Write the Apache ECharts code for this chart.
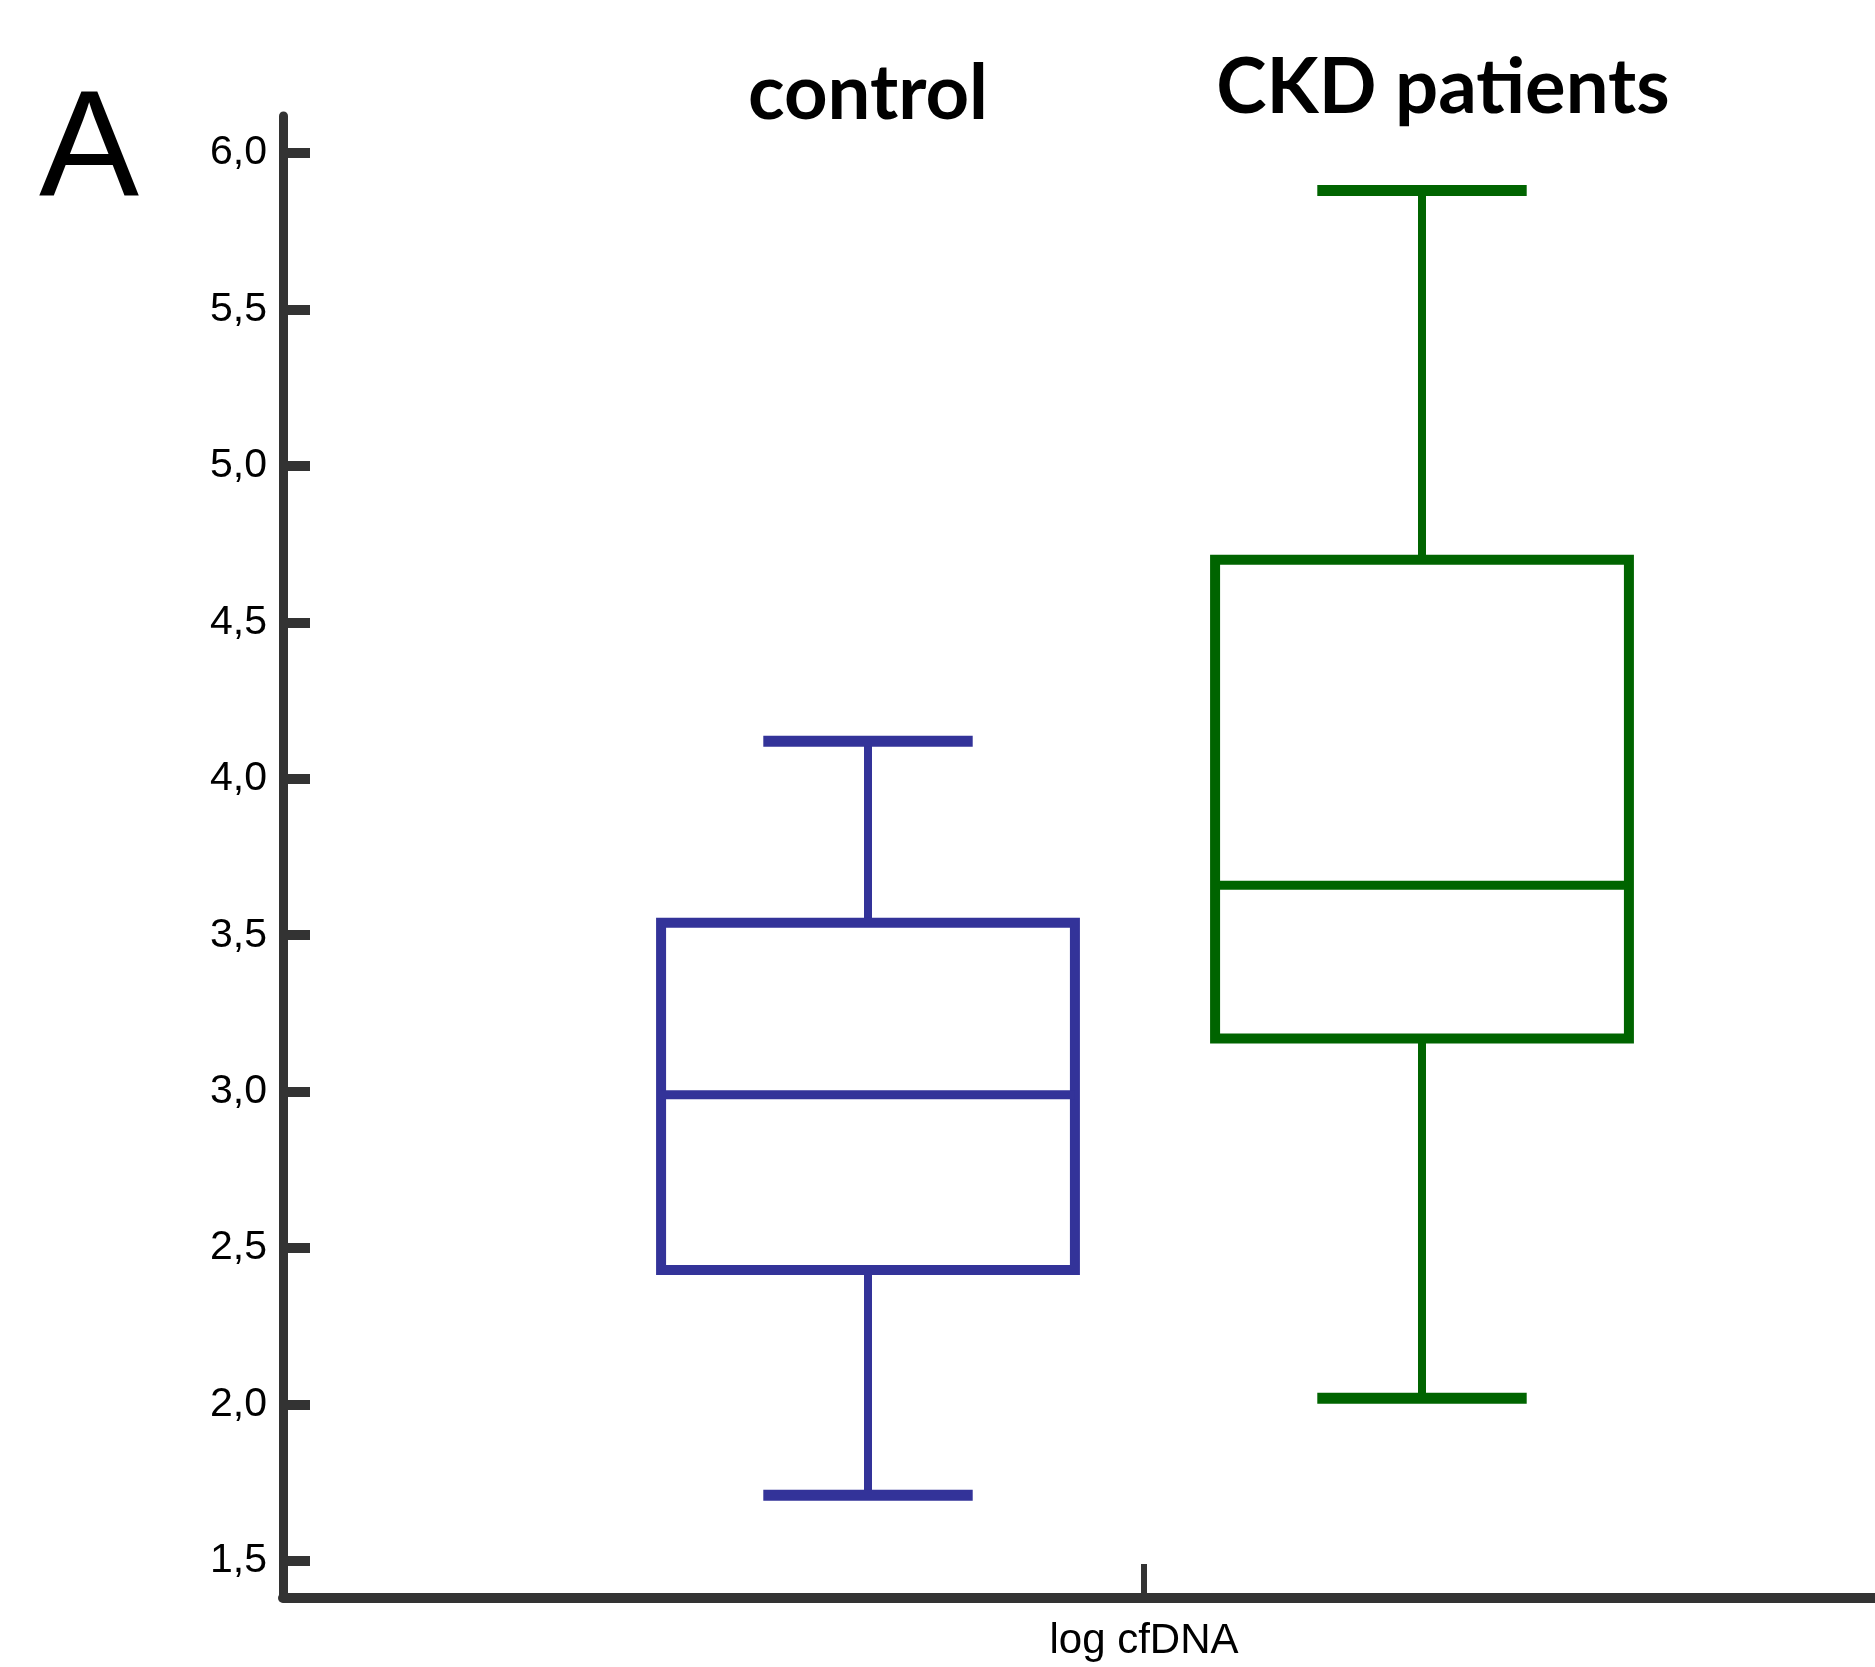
<!DOCTYPE html>
<html>
<head>
<meta charset="utf-8">
<script src="https://cdn.jsdelivr.net/npm/echarts@6/dist/echarts.min.js"></script>
<style>
  html, body { margin: 0; padding: 0; background: #fff; }
  #chart { width: 1875px; height: 1667px; }
</style>
</head>
<body>
<div id="chart"></div>
<script>
// box plot values (log cfDNA)
var groups = ['control', 'CKD patients'];
var whiskerLow = [1.71, 2.02];
var q1 = [2.43, 3.17];
var median = [2.99, 3.66];
var q3 = [3.54, 4.70];
var whiskerHigh = [4.12, 5.88];
var groupColors = ['#333399', '#006400'];

var xCategory = ['log cfDNA'];
var yTicks = [1.5, 2.0, 2.5, 3.0, 3.5, 4.0, 4.5, 5.0, 5.5, 6.0];
var yMin = 1.382, yMax = 6.118;

var boxData = [];
for (var i = 0; i < groups.length; i++) {
    boxData.push([i, whiskerLow[i], q1[i], median[i], q3[i], whiskerHigh[i]]);
}

function renderBox(params, api) {
    var cat = api.value(0);
    var x = api.coord([cat, 0])[0];
    var yLo = api.coord([cat, api.value(1)])[1];
    var yQ1 = api.coord([cat, api.value(2)])[1];
    var yMed = api.coord([cat, api.value(3)])[1];
    var yQ3 = api.coord([cat, api.value(4)])[1];
    var yHi = api.coord([cat, api.value(5)])[1];
    var band = api.size([1, 0])[0];
    var half = band * 0.747 / 2;
    var capHalf = band * 0.378 / 2;
    var color = groupColors[params.dataIndex];
    var thin = {stroke: color, lineWidth: 8};
    return {
        type: 'group',
        children: [
            {type: 'line', shape: {x1: x, y1: yQ3, x2: x, y2: yHi}, style: thin},
            {type: 'line', shape: {x1: x, y1: yQ1, x2: x, y2: yLo}, style: thin},
            {type: 'line', shape: {x1: x - capHalf, y1: yHi, x2: x + capHalf, y2: yHi}, style: {stroke: color, lineWidth: 11}},
            {type: 'line', shape: {x1: x - capHalf, y1: yLo, x2: x + capHalf, y2: yLo}, style: {stroke: color, lineWidth: 11}},
            {type: 'rect', shape: {x: x - half, y: yQ3, width: half * 2, height: yQ1 - yQ3},
                style: {fill: 'none', stroke: color, lineWidth: 10}},
            {type: 'line', shape: {x1: x - half, y1: yMed, x2: x + half, y2: yMed}, style: {stroke: color, lineWidth: 9}}
        ]
    };
}

var option = {
    backgroundColor: '#fff',
    animation: false,
    title: {
        text: 'A', left: 34, top: 74,
        textStyle: {fontFamily: 'Liberation Sans', fontSize: 150, fontWeight: 'normal', color: '#000'}
    },
    grid: [
        {left: 283, right: -130, top: 116, bottom: 69, outerBoundsMode: 'none'},
        {left: 591, right: 176, top: 116, bottom: 69, outerBoundsMode: 'none'}
    ],
    xAxis: [
        {
            gridIndex: 0, type: 'category', data: xCategory, boundaryGap: true,
            axisLine: {show: true, lineStyle: {color: '#333', width: 10}},
            axisTick: {show: true, inside: true, alignWithLabel: true, length: 34, lineStyle: {color: '#333', width: 6}},
            axisLabel: {show: true, interval: 0, margin: 22, color: '#000', fontSize: 42,
                fontFamily: 'Liberation Sans Narrow, Arial Narrow, Liberation Sans'},
            splitLine: {show: false}
        },
        {
            gridIndex: 1, type: 'category', data: groups, position: 'top', boundaryGap: true,
            axisLine: {show: false}, axisTick: {show: false}, splitLine: {show: false},
            axisLabel: {
                show: true, interval: 0, hideOverlap: false,
                margin: -16, color: '#000', fontSize: 76, fontWeight: 'bold', fontFamily: 'Lato',
                formatter: function (v, idx) { return idx === 1 ? '{ckd|' + v + '}' : v; },
                rich: {ckd: {fontSize: 76, fontWeight: 'bold', fontFamily: 'Lato', color: '#000', padding: [0, 0, 6, 42]}}
            }
        }
    ],
    yAxis: [
        {
            gridIndex: 0, type: 'value', min: yMin, max: yMax,
            axisLine: {show: true, lineStyle: {color: '#333', width: 9}},
            axisTick: {show: true, inside: true, length: 27, customValues: yTicks, lineStyle: {color: '#333', width: 10}},
            axisLabel: {
                show: true, customValues: yTicks, margin: 16, color: '#000', fontSize: 41, fontFamily: 'Liberation Sans',
                formatter: function (v) { return v.toFixed(1).replace('.', ','); }
            },
            splitLine: {show: false}
        },
        {
            gridIndex: 1, type: 'value', min: yMin, max: yMax, show: false, splitLine: {show: false}
        }
    ],
    series: [
        {
            name: 'log cfDNA', type: 'custom', xAxisIndex: 1, yAxisIndex: 1,
            renderItem: renderBox, data: boxData, clip: false
        }
    ]
};

var myChart = echarts.init(document.getElementById('chart'));
myChart.setOption(option);
</script>
</body>
</html>
